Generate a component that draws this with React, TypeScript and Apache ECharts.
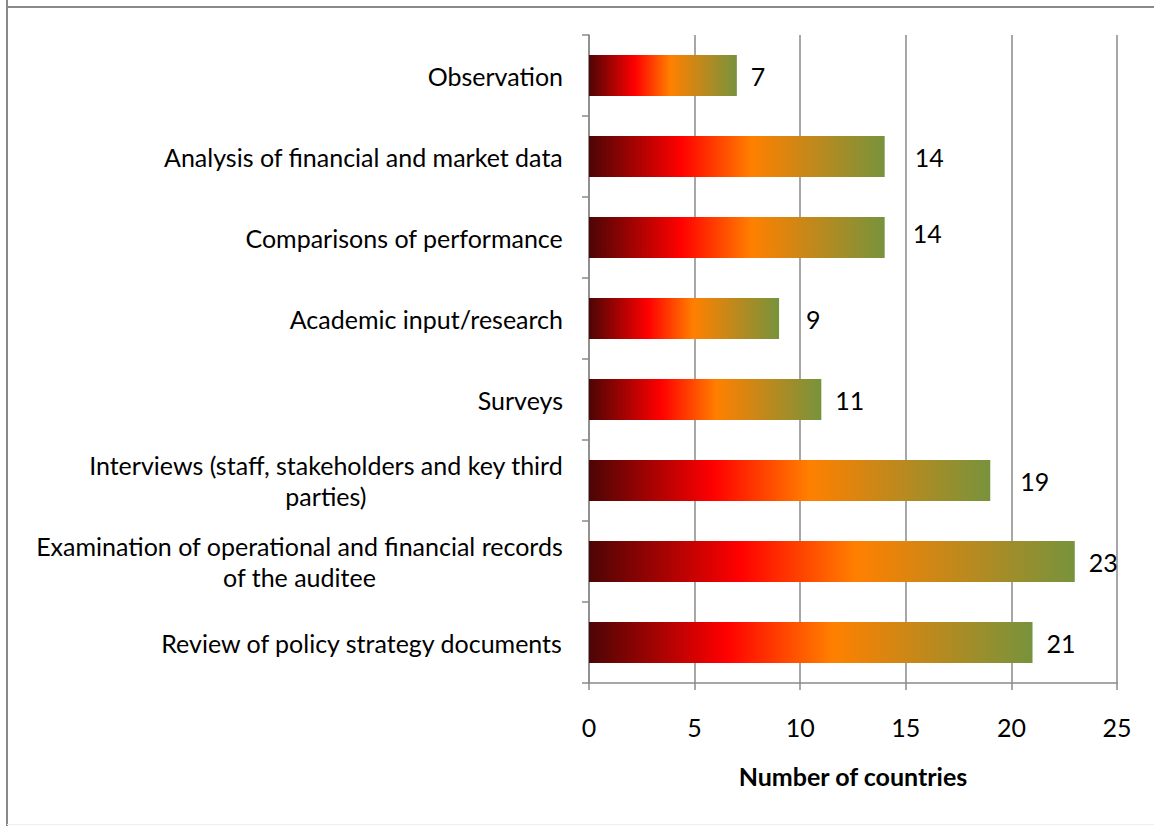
import React, { useEffect, useRef } from "react";
import * as echarts from "echarts";

const categories: string[] = [
  "Observation",
  "Analysis of financial and market data",
  "Comparisons of performance",
  "Academic input/research",
  "Surveys",
  "Interviews (staff, stakeholders and key third\nparties)",
  "Examination of operational and financial records\nof the auditee",
  "Review of policy strategy documents",
];
const values: number[] = [7, 14, 14, 9, 11, 19, 23, 21];
const labelGaps: number[] = [14, 30, 28, 27, 14, 30, 14, 14];
const labelLift: number[] = [0, 0, -5, 0, 0, 0, 0, 0];
const xTicks = { min: 0, max: 25, interval: 5 };
const axisTitle = "Number of countries";

const FONT = "Lato, 'Open Sans', sans-serif";
const FS = 25;

export default function App() {
  const ref = useRef<HTMLDivElement>(null);
  useEffect(() => {
    if (!ref.current) return;
    const chart = echarts.init(ref.current, undefined, { renderer: "svg" });
    const grad = () =>
      new echarts.graphic.LinearGradient(0, 0, 1, 0, [
        { offset: 0, color: "#4d0505" },
        { offset: 0.31, color: "#ff0000" },
        { offset: 0.55, color: "#ff8000" },
        { offset: 1, color: "#77933c" },
      ]);
    const lineColor = "#8a8a8a";
    chart.setOption({
      animation: false,
      backgroundColor: "#ffffff",
      grid: { left: 589, right: 37, top: 35, bottom: 143, containLabel: false },
      xAxis: {
        type: "value",
        min: xTicks.min,
        max: xTicks.max,
        interval: xTicks.interval,
        name: axisTitle,
        nameLocation: "middle",
        nameGap: 80,
        nameTextStyle: { fontFamily: FONT, fontSize: FS, fontWeight: "bold", color: "#000" },
        axisLine: { show: true, lineStyle: { color: lineColor, width: 1.5 } },
        axisTick: { show: true, length: 7, lineStyle: { color: lineColor, width: 1.5 } },
        axisLabel: { fontFamily: FONT, fontSize: FS, color: "#000", margin: 31 },
        splitLine: { show: true, lineStyle: { color: lineColor, width: 1.5 } },
      },
      yAxis: {
        type: "category",
        inverse: true,
        data: categories,
        axisLine: { show: true, lineStyle: { color: lineColor, width: 1.5 } },
        axisTick: { show: true, length: 7, lineStyle: { color: lineColor, width: 1.5 } },
        axisLabel: {
          margin: 26,
          align: "right",
          formatter: (v: string) =>
            v
              .split("\n")
              .map((s) => "{c|" + s + "}")
              .join("\n"),
          rich: {
            c: {
              align: "center",
              fontFamily: FONT,
              fontSize: FS,
              lineHeight: 31,
              color: "#000",
            },
          },
        },
        splitLine: { show: false },
      },
      series: [
        {
          type: "bar",
          barWidth: 41,
          data: values.map((v, i) => ({
            value: v,
            itemStyle: { color: grad() },
            label: {
              show: true,
              position: "right",
              distance: labelGaps[i],
              offset: [0, labelLift[i]],
              fontFamily: FONT,
              fontSize: FS,
              color: "#000",
            },
          })),
        },
      ],
      graphic: [
        {
          type: "line",
          shape: { x1: 7, y1: 0, x2: 7, y2: 826 },
          style: { stroke: lineColor, lineWidth: 2 },
        },
        {
          type: "line",
          shape: { x1: 7, y1: 7, x2: 1154, y2: 7 },
          style: { stroke: lineColor, lineWidth: 2 },
        },
        {
          type: "line",
          shape: { x1: 7, y1: 824.5, x2: 1154, y2: 824.5 },
          style: { stroke: "#eeeeee", lineWidth: 1 },
        },
      ],
    });
    return () => chart.dispose();
  }, []);
  return (
    <div
      ref={ref}
      style={{ position: "fixed", left: 0, top: 0, width: 1154, height: 826 }}
    />
  );
}
